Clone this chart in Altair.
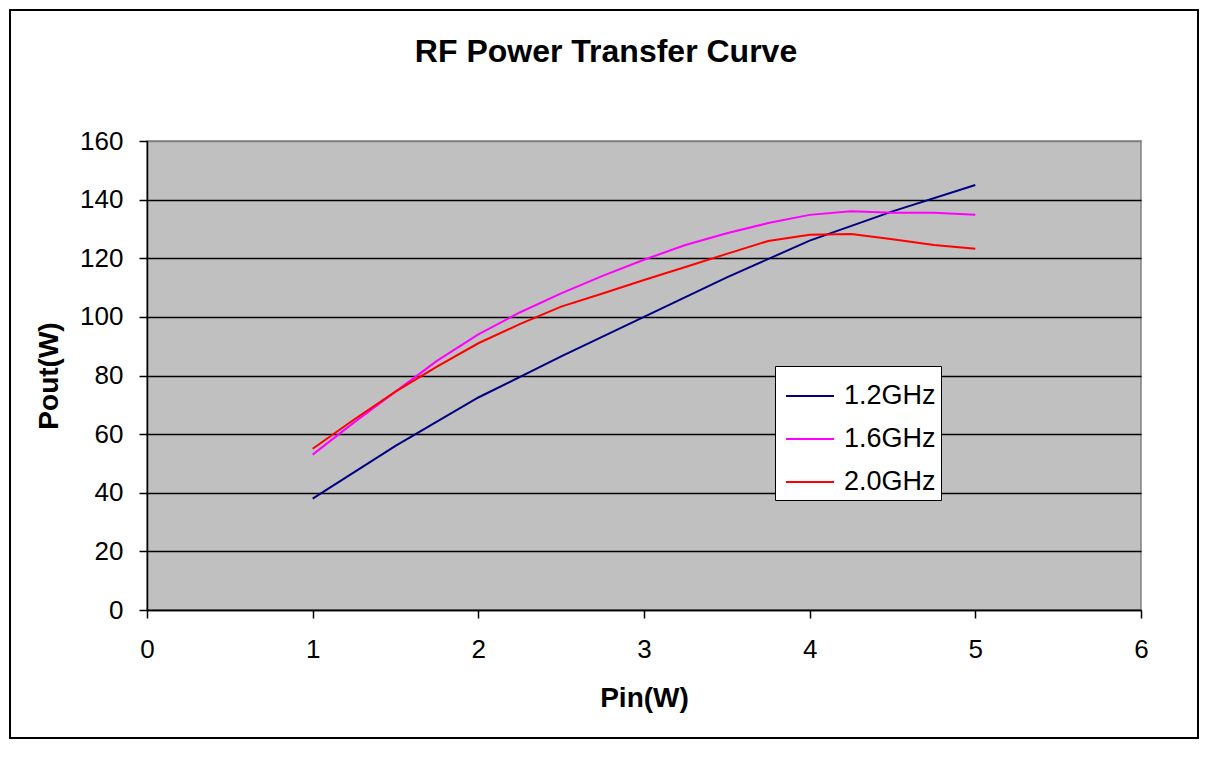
import altair as alt
import pandas as pd

# ---- data ----
series_names = ["1.2GHz", "1.6GHz", "2.0GHz"]
series_colors = ["#000080", "#FF00FF", "#FF0000"]

pin_12 = [1, 1.5, 2, 2.5, 3, 3.5, 4, 4.5, 5]
pout_12 = [38, 56, 72.5, 86.5, 100, 113.5, 126, 136, 145]

pin_16 = [1, 1.25, 1.5, 1.75, 2, 2.25, 2.5, 2.75, 3, 3.25, 3.5, 3.75, 4, 4.25, 4.5, 4.75, 5]
pout_16 = [53, 64, 74.5, 85, 94, 101.5, 108, 114, 119.5, 124.5, 128.5, 132, 134.8, 136, 135.5, 135.5, 134.8]

pin_20 = [1, 1.25, 1.5, 1.75, 2, 2.25, 2.5, 2.75, 3, 3.25, 3.5, 3.75, 4, 4.25, 4.5, 4.75, 5]
pout_20 = [55, 65, 74.5, 83, 91, 97.5, 103.5, 108, 112.6, 117, 121.5, 125.9, 128, 128.3, 126.5, 124.5, 123.2]

x_ticks = [0, 1, 2, 3, 4, 5, 6]
y_ticks = [0, 20, 40, 60, 80, 100, 120, 140, 160]

chart_title = "RF Power Transfer Curve"

rows = []
for name, xs, ys in zip(series_names, [pin_12, pin_16, pin_20], [pout_12, pout_16, pout_20]):
    for xv, yv in zip(xs, ys):
        rows.append({"Pin": xv, "Pout": yv, "Series": name})
df = pd.DataFrame(rows)

FONT = "Liberation Sans"

lines = alt.Chart(df).mark_line(strokeWidth=2).encode(
    x=alt.X("Pin:Q",
            scale=alt.Scale(domain=[0, 6], nice=False),
            axis=alt.Axis(title="Pin(W)", values=x_ticks, grid=False, format="d",
                          labelFlush=False, labelPadding=18, titlePadding=22)),
    y=alt.Y("Pout:Q",
            scale=alt.Scale(domain=[0, 160], nice=False),
            axis=alt.Axis(title="Pout(W)", values=y_ticks, grid=True, format="d",
                          labelFlush=False,
                          gridColor=alt.condition("datum.value == 160",
                                                  alt.value("#808080"),
                                                  alt.value("black")),
                          labelPadding=16, titlePadding=16)),
    color=alt.Color("Series:N",
                    scale=alt.Scale(domain=series_names, range=series_colors),
                    legend=alt.Legend(title=None, orient="none", legendX=628, legendY=225,
                                      fillColor="white", strokeColor="black",
                                      padding=5, symbolOffset=5,
                                      labelFontSize=27, labelFont=FONT,
                                      labelColor="black", symbolType="stroke",
                                      symbolSize=2304, symbolStrokeWidth=2,
                                      labelOffset=9, rowPadding=5)),
)

frame = alt.Chart(alt.Data(values=[{}])).mark_rect(
    fillOpacity=0, stroke="black", strokeWidth=2
).encode(
    x=alt.value(-137), x2=alt.value(1051), y=alt.value(-131), y2=alt.value(597)
)

title = alt.Chart(alt.Data(values=[{"t": chart_title}])).mark_text(
    font=FONT, fontSize=32, fontWeight="bold", color="black",
    align="center", baseline="alphabetic"
).encode(text="t:N", x=alt.value(459), y=alt.value(-79))

chart = alt.layer(frame, lines, title).properties(
    width=994, height=469,
    autosize=alt.AutoSizeParams(type="none"),
    padding={"left": 139, "top": 133, "right": 59, "bottom": 130},
    background="white",
).configure_view(
    fill="#C0C0C0", stroke="#808080", strokeWidth=1.5
).configure_axis(
    labelFont=FONT, labelFontSize=26, labelColor="black",
    titleFont=FONT, titleFontSize=28, titleFontWeight="bold", titleColor="black",
    domainColor="black", domainWidth=1.5,
    tickColor="black", tickWidth=1.5, tickSize=8,
    gridWidth=1.5,
)

chart.save("out.html", embed_options={"renderer": "svg", "actions": False})
